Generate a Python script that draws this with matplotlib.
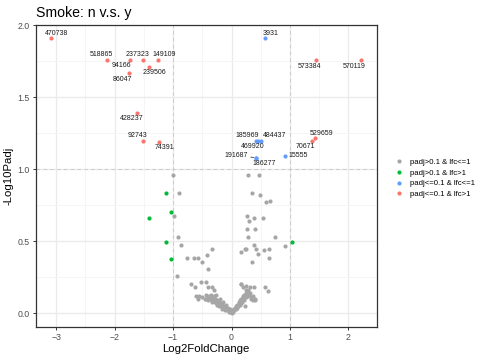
import matplotlib
matplotlib.use("Agg")
import matplotlib.pyplot as plt
from matplotlib.lines import Line2D
import numpy as np

plt.rcParams['font.family'] = ['Liberation Sans', 'DejaVu Sans']

# ---------------- data ----------------
grey_x = [-1.005, -0.90, -0.99, -0.92, -0.86, -0.33, -0.76, -0.65, -0.57, -0.42, -0.50, -0.395,
          -0.93, -0.70, -0.62, -0.53, -0.44, -0.41, -0.33, -0.30, -0.60, -0.57,
          0.277, 0.465, 0.35, 0.49, 0.59, 0.665, 0.26, 0.306, 0.385, 0.545, 0.265, 0.41,
          0.29, 0.75, 0.92, 0.23, 0.25, 0.17, 0.38, 0.425, 0.555, 0.635, 0.46, 0.635,
          0.357, 0.157, 0.316, 0.39, 0.57, 0.63,
          -0.02, -0.04, -0.05, -0.07, -0.08, -0.10, -0.11, -0.12, -0.13, -0.15, -0.16, -0.17,
          -0.18, -0.20, -0.21, -0.22, -0.24, -0.25, -0.26, -0.28, -0.29, -0.30, -0.31, -0.33,
          -0.34, -0.35, -0.36, -0.38, -0.40, -0.41, -0.43, -0.46, -0.50, -0.44, -0.27, -0.20,
          -0.14, -0.09, -0.06, -0.03, -0.55,
          0.01, 0.02, 0.03, 0.04, 0.05, 0.06, 0.07, 0.08, 0.09, 0.10, 0.11, 0.12, 0.13, 0.14,
          0.15, 0.16, 0.17, 0.18, 0.19, 0.20, 0.21, 0.22, 0.23, 0.24, 0.25, 0.26, 0.27, 0.28,
          0.30, 0.31, 0.33, 0.34, 0.36, 0.40, 0.37, 0.40, 0.29, 0.24, 0.17, 0.20, 0.25,
          0.0, -0.01, 0.0]
grey_y = [0.959, 0.835, 0.673, 0.53, 0.472, 0.45, 0.385, 0.387, 0.385, 0.403, 0.353, 0.311,
          0.26, 0.20, 0.185, 0.216, 0.22, 0.185, 0.182, 0.16, 0.12, 0.10,
          0.959, 0.963, 0.835, 0.82, 0.77, 0.78, 0.673, 0.64, 0.66, 0.664, 0.588, 0.588,
          0.53, 0.53, 0.465, 0.45, 0.45, 0.424, 0.475, 0.45, 0.438, 0.45, 0.413, 0.383,
          0.353, 0.20, 0.185, 0.185, 0.185, 0.152,
          0.01, 0.01, 0.02, 0.02, 0.03, 0.03, 0.04, 0.02, 0.05, 0.04, 0.06, 0.03,
          0.05, 0.07, 0.05, 0.08, 0.06, 0.09, 0.07, 0.10, 0.08, 0.12, 0.09, 0.11,
          0.08, 0.13, 0.10, 0.12, 0.09, 0.11, 0.10, 0.10, 0.11, 0.13, 0.13, 0.10,
          0.08, 0.06, 0.04, 0.03, 0.12,
          0.01, 0.02, 0.01, 0.03, 0.02, 0.04, 0.03, 0.05, 0.04, 0.06, 0.05, 0.07, 0.08, 0.06,
          0.09, 0.07, 0.10, 0.08, 0.11, 0.12, 0.09, 0.13, 0.05, 0.11, 0.14, 0.12, 0.12, 0.15,
          0.13, 0.143, 0.11, 0.10, 0.09, 0.09, 0.12, 0.10, 0.16, 0.16, 0.20, 0.18, 0.19,
          0.0, 0.02, 0.01]

green_x = [-1.13, -1.41, -1.034, -1.125, -1.034, 1.034]
green_y = [0.835, 0.66, 0.707, 0.493, 0.376, 0.493]

blue_labels = ['3931', '185969', '484437', '469920', '191687', '186277', '15555']
blue_x = [0.568, 0.425, 0.50, 0.46, 0.414, 0.414, 0.91]
blue_y = [1.91, 1.20, 1.20, 1.20, 1.081, 1.081, 1.093]

red_labels = ['470738', '518865', '94166', '237323', '149109', '239506', '86047',
              '428237', '92743', '74391', '573384', '570119', '529659', '70671']
red_x = [-3.09, -2.13, -1.74, -1.51, -1.26, -1.42, -1.76, -1.62, -1.51, -1.24, 1.45, 2.22, 1.43, 1.37]
red_y = [1.91, 1.76, 1.76, 1.76, 1.76, 1.71, 1.67, 1.39, 1.20, 1.19, 1.76, 1.76, 1.217, 1.20]

legend_labels = ['padj>0.1 & lfc<=1', 'padj>0.1 & lfc>1', 'padj<=0.1 & lfc<=1', 'padj<=0.1 & lfc>1']
x_ticks = [-3, -2, -1, 0, 1, 2]
y_ticks = [0.0, 0.5, 1.0, 1.5, 2.0]
y_tick_labels = ['0.0', '0.5', '1.0', '1.5', '2.0']

# label offsets (pixels): layout only
label_offsets = {
    '470738': (6, 5), '518865': (-5.6, 5.6), '94166': (-8, -5.7), '237323': (-6, 5.6),
    '149109': (6.7, 5.6), '239506': (5.6, -5.4), '86047': (-6.7, -6.3), '428237': (-5.6, -5),
    '92743': (-5.6, 5.3), '74391': (5.7, -5.7), '573384': (-6.7, -6), '570119': (-6.7, -6),
    '529659': (6, 4.7), '70671': (-6.3, -5.7), '3931': (6, 5), '185969': (-9, 4.6),
    '484437': (14, 4.6), '469920': (-6, -5.7), '191687': (-19.3, 2.4), '186277': (8.3, -6),
    '15555': (13.3, 0),
}

C_GREY = '#A6A6A6'
C_GREEN = '#00BA38'
C_BLUE = '#619CFF'
C_RED = '#F8766D'

# ---------------- figure ----------------
W, H = 495, 360
fig = plt.figure(figsize=(W / 100, H / 100), dpi=100)
L, R, T, B = 35.5, 376.7, 24.7, 327
ax = fig.add_axes([L / W, 1 - B / H, (R - L) / W, (B - T) / H])

all_x = grey_x + green_x + blue_x + red_x
all_y = grey_y + green_y + blue_y + red_y
xr = max(all_x) - min(all_x)
yr = max(all_y) - min(all_y)
ax.set_xlim(min(all_x) - 0.05 * xr, max(all_x) + 0.05 * xr)
ax.set_ylim(min(all_y) - 0.05 * yr, max(all_y) + 0.05 * yr)

# grid
ax.set_xticks(x_ticks)
ax.set_yticks(y_ticks)
ax.set_yticklabels(y_tick_labels)
ax.set_xticklabels(['\u2212' + str(abs(v)) if v < 0 else str(v) for v in x_ticks])
ax.set_xticks([-2.5, -1.5, -0.5, 0.5, 1.5], minor=True)
ax.set_yticks([0.25, 0.75, 1.25, 1.75], minor=True)
ax.grid(which='major', color='#EBEBEB', lw=1.0, zorder=0)
ax.grid(which='minor', color='#F4F4F4', lw=0.6, zorder=0)
ax.tick_params(which='minor', length=0)
ax.tick_params(which='major', length=2.5, width=0.7, color='#333333',
               labelsize=6.3, labelcolor='#4D4D4D', pad=1.5)
for s in ax.spines.values():
    s.set_color('#333333')
    s.set_linewidth(0.9)
ax.set_axisbelow(True)

# threshold lines
for xv in (-1, 1):
    ax.axvline(xv, color='#CCCCCC', lw=0.7, ls=(0, (4, 3)), zorder=1)
ax.axhline(1, color='#CCCCCC', lw=0.7, ls=(0, (4, 3)), zorder=1)

ms = 9
ax.scatter(grey_x, grey_y, s=ms, color=C_GREY, lw=0, zorder=2)
ax.scatter(green_x, green_y, s=ms, color=C_GREEN, lw=0, zorder=2)
ax.scatter(blue_x, blue_y, s=ms, color=C_BLUE, lw=0, zorder=2)
ax.scatter(red_x, red_y, s=ms, color=C_RED, lw=0, zorder=2)

for labs, xs, ys in ((red_labels, red_x, red_y), (blue_labels, blue_x, blue_y)):
    for lab, xv, yv in zip(labs, xs, ys):
        dx, dy = label_offsets[lab]
        kw = {}
        if lab == '191687':
            kw['arrowprops'] = dict(arrowstyle='-', color='#333333', lw=0.6,
                                    shrinkA=0, shrinkB=1.5)
        ax.annotate(lab, (xv, yv), xytext=(dx, dy), textcoords='offset pixels',
                    ha='center', va='center', fontsize=5, color='#1A1A1A', zorder=3, **kw)

ax.set_xlabel('Log2FoldChange', fontsize=8.2, labelpad=2)
ax.set_ylabel('-Log10Padj', fontsize=8.2, labelpad=3)
fig.text(L / W, 1 - 17 / H, 'Smoke: n v.s. y', fontsize=10.2, ha='left', va='baseline')

handles = [Line2D([], [], ls='', marker='o', ms=3, color=c, mec='none')
           for c in (C_GREY, C_GREEN, C_BLUE, C_RED)]
fig.legend(handles, legend_labels, loc='upper left', bbox_to_anchor=(394 / W, 1 - 158.5 / H),
           frameon=False, fontsize=5.6, handlelength=1.2, handletextpad=0.8,
           labelspacing=0.42, borderaxespad=0, borderpad=0)

fig.savefig('out.png', dpi=100)
